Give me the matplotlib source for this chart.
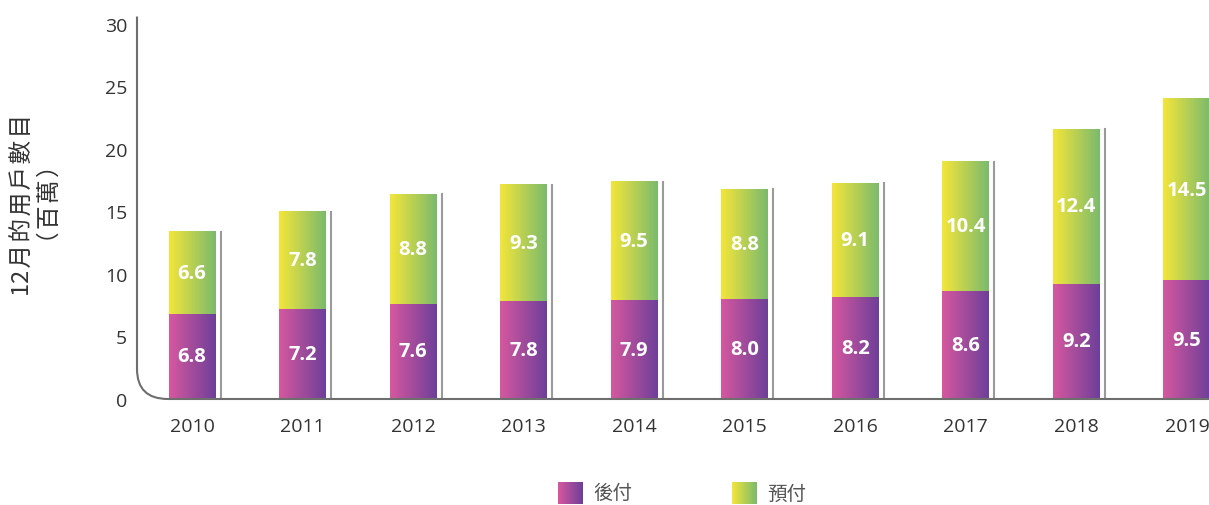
import numpy as np
import matplotlib
matplotlib.use("Agg")
import matplotlib.pyplot as plt
from matplotlib.colors import LinearSegmentedColormap
from matplotlib.path import Path
from matplotlib.patches import PathPatch

plt.rcParams['font.family'] = ['Open Sans', 'Noto Sans CJK TC', 'DejaVu Sans']

years = ["2010", "2011", "2012", "2013", "2014", "2015", "2016", "2017", "2018", "2019"]
postpaid = [6.8, 7.2, 7.6, 7.8, 7.9, 8.0, 8.2, 8.6, 9.2, 9.5]
prepaid = [6.6, 7.8, 8.8, 9.3, 9.5, 8.8, 9.1, 10.4, 12.4, 14.5]
series_names = ["後付", "預付"]
yticks = [0, 5, 10, 15, 20, 25, 30]
ylabel_lines = ["12月的用戶數目", "（百萬）"]

cmap_post = LinearSegmentedColormap.from_list("post", ["#d6589f", "#6d3f99"])
cmap_pre = LinearSegmentedColormap.from_list("pre", ["#f4e63a", "#7aba6d"])
grad = np.linspace(0, 1, 256).reshape(1, -1)

W, H = 1209, 506
fig = plt.figure(figsize=(W / 100, H / 100), dpi=100)
ax = fig.add_axes([137 / W, 1 - 400 / H, (W - 137) / W, (400 - 17.5) / H])

x = np.arange(len(years))
xmin, xmax = -0.498, 9.2
ymin, ymax = 0, 30.6
bw = 0.425

bars_post = ax.bar(x, postpaid, width=bw, color="none", zorder=2)
bars_pre = ax.bar(x, prepaid, width=bw, bottom=postpaid, color="none", zorder=2)

for bars, cmap, vals in [(bars_post, cmap_post, postpaid), (bars_pre, cmap_pre, prepaid)]:
    for rect, v in zip(bars, vals):
        x0, y0 = rect.get_x(), rect.get_y()
        x1, y1 = x0 + rect.get_width(), y0 + rect.get_height()
        ax.imshow(grad, extent=(x0, x1, y0, y1), aspect='auto', cmap=cmap, zorder=2)
        ax.text((x0 + x1) / 2, (y0 + y1) / 2, f"{v:.1f}", ha='center', va='center',
                color='white', fontsize=14.5, fontweight='bold', zorder=3)

# thin shadow line right of each bar
totals = np.array(postpaid) + np.array(prepaid)
for xi, t in zip(x, totals):
    ax.plot([xi + bw / 2 + 0.045] * 2, [0, t], color="#9a9a9a", lw=1.5, zorder=1)

ax.set_xlim(xmin, xmax)
ax.set_ylim(ymin, ymax)

# axis line with rounded corner
rx = 31 / 110.5
ry = 2.4
verts = [(xmin, ymax), (xmin, ry), (xmin, 0), (xmin + rx, 0), (xmax, 0)]
codes = [Path.MOVETO, Path.LINETO, Path.CURVE3, Path.CURVE3, Path.LINETO]
ax.add_patch(PathPatch(Path(verts, codes), fill=False, edgecolor="#6e6e6e", lw=1.5,
                       clip_on=False, zorder=4))

for s in ax.spines.values():
    s.set_visible(False)
ax.set_yticks(yticks)
ax.set_xticks(x)
ax.set_xticklabels(years)
ax.tick_params(axis='y', length=0, pad=7, labelsize=14, labelcolor="#333333")
ax.tick_params(axis='x', length=0, pad=13, labelsize=14, labelcolor="#333333")

# y label, two lines, slightly letter-spaced like the original
def spaced(s, start=1):
    out = s[:start]
    for ch in s[start:]:
        out += "\u200a" + ch
    return out

cjk = ['Noto Sans CJK TC', 'DejaVu Sans']
fig.text(23 / W, 1 - 205 / H, spaced(ylabel_lines[0], 2), rotation=90, ha='center',
         va='center', fontsize=17, color="#333333", family=cjk)
fig.text(50 / W, 1 - 204 / H, spaced(ylabel_lines[1]), rotation=90, ha='center',
         va='center', fontsize=17, color="#333333", family=cjk)

# legend
for name, cmap, lx in [(series_names[0], cmap_post, 558), (series_names[1], cmap_pre, 732)]:
    sw = fig.add_axes([lx / W, 1 - 506 / H + 1 / H, 25 / W, 22 / H])
    sw.imshow(grad, aspect='auto', cmap=cmap)
    sw.axis('off')
    fig.text((lx + 35) / W, 1 - 494 / H, name, ha='left', va='center', fontsize=14,
             color="#555555", family=cjk)

fig.savefig("out.png", dpi=100)
